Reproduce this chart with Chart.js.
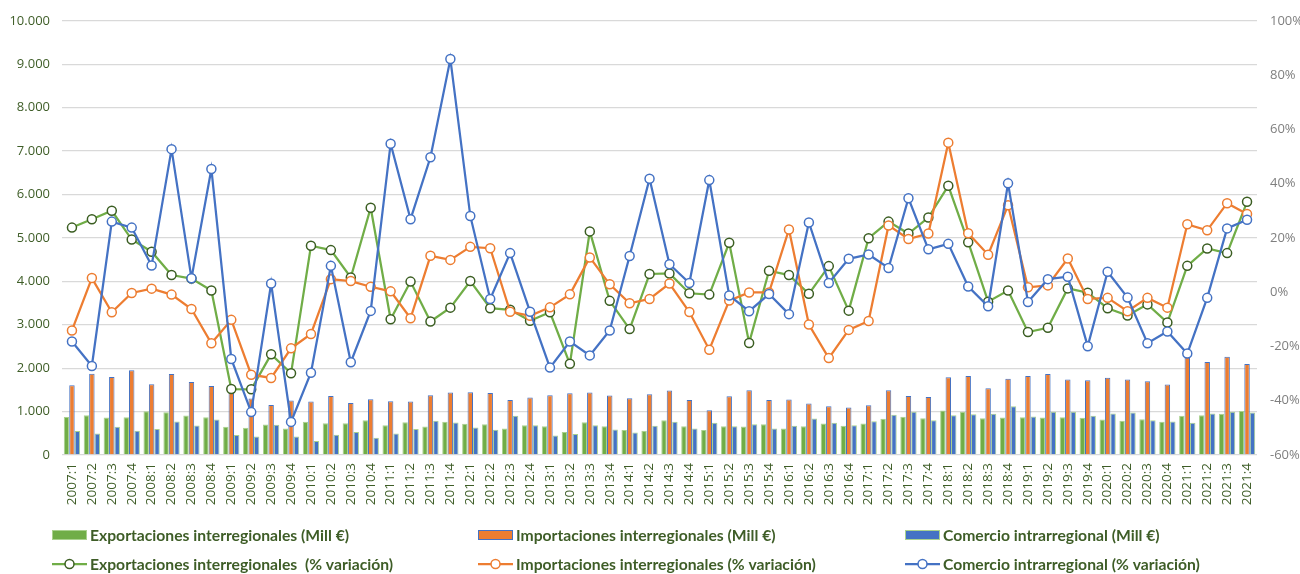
<!DOCTYPE html>
<html lang="es">
<head>
<meta charset="utf-8">
<title>Comercio interregional e intrarregional</title>
<script src="https://cdn.jsdelivr.net/npm/chart.js@4.4.1/dist/chart.umd.min.js"></script>
<style>
  html, body { margin: 0; padding: 0; background: #ffffff; overflow: hidden; }
  #wrap { position: relative; width: 1300px; height: 574px; }
</style>
</head>
<body>
<div id="wrap"><canvas id="chart" width="1300" height="574"></canvas></div>
<script>
// Trimestres 2007:1 - 2021:4
const years = ['2007','2008','2009','2010','2011','2012','2013','2014','2015','2016','2017','2018','2019','2020','2021'];
const quarters = [];
years.forEach(y => { for (let q = 1; q <= 4; q++) quarters.push(y + ':' + q); });

// Millones de euros (eje izquierdo)
const exportsMill = [
  878, 917, 864, 872,   1009, 986, 910, 872,   650, 627, 704, 612,   765, 734, 734, 803,
  688, 757, 657, 765,   719, 711, 612, 688,    665, 528, 757, 665,   573, 558, 803, 665,
  573, 665, 657, 711,   612, 665, 726, 673,    726, 834, 879, 849,   1025, 994, 849, 864,
  872, 864, 872, 857,   818, 788, 826, 765,    902, 917, 948, 1016
];
const importsMill = [
  1606, 1873, 1796, 1950,  1628, 1865, 1682, 1590,  1540, 1300, 1154, 1254,  1231, 1361, 1200, 1284,
  1238, 1231, 1376, 1437,  1445, 1430, 1269, 1323,  1376, 1422, 1437, 1368,  1307, 1399, 1483, 1269,
  1032, 1353, 1491, 1269,  1277, 1185, 1124, 1093,  1147, 1491, 1361, 1338,  1789, 1820, 1537, 1758,
  1820, 1865, 1736, 1720,  1781, 1736, 1697, 1621,  2260, 2140, 2260, 2094
];
const intraMill = [
  550, 497, 650, 558,   596, 772, 680, 818,   459, 428, 696, 428,   321, 466, 528, 397,
  497, 596, 787, 749,   635, 581, 902, 688,   451, 482, 688, 589,   520, 673, 765, 612,
  742, 665, 711, 612,   673, 841, 742, 688,   780, 925, 994, 803,   917, 940, 948, 1124,
  887, 994, 994, 902,   956, 979, 803, 772,   742, 956, 994, 979
];

// % variación (eje derecho)
const exportsPct = [
  23.8, 26.9, 30.0, 19.4,   14.9, 6.3, 5.0, 0.6,   -35.7, -35.8, -22.9, -29.9,   17.1, 15.5, 5.4, 31.1,
  -10.0, 3.9, -10.8, -5.7,  4.1, -5.9, -6.5, -10.5, -7.4, -26.4, 22.4, -3.2,     -13.6, 6.7, 6.9, -0.4,
  -0.9, 18.2, -18.7, 7.9,   6.3, -0.6, 9.6, -6.8,  19.9, 26.0, 21.6, 27.5,       39.2, 18.4, -3.5, 0.6,
  -14.7, -13.1, 1.4, -0.2,  -5.9, -8.6, -4.5, -11.2, 9.7, 16.1, 14.4, 33.3
];
const importsPct = [
  -14.1, 5.2, -7.4, -0.3,   1.3, -0.9, -6.2, -18.8,  -10.2, -30.4, -31.6, -20.7,  -15.4, 4.8, 4.1, 2.0,
  0.3, -9.6, 13.4, 11.9,    16.7, 16.2, -7.2, -8.7,  -5.6, -0.8, 12.8, 2.9,       -4.1, -2.5, 3.2, -7.3,
  -21.2, -3.1, -0.1, -0.1,  23.1, -11.9, -24.3, -13.9, -10.6, 24.6, 19.6, 21.6,   55.1, 21.7, 13.8, 32.0,
  1.8, 2.5, 12.4, -2.5,     -2.1, -7.0, -2.1, -5.7,  25.0, 22.8, 32.8, 28.8
];
const intraPct = [
  -18.2, -27.2, 26.0, 23.8, 9.8, 52.7, 5.1, 45.4,   -24.6, -44.2, 3.2, -47.8,   -29.7, 9.7, -25.8, -6.9,
  54.7, 26.9, 49.7, 85.9,   28.1, -2.5, 14.4, -7.2,  -27.8, -18.2, -23.3, -14.1, 13.3, 41.8, 10.3, 3.4,
  41.3, -1.2, -7.0, -0.7,   -8.1, 25.7, 3.4, 12.3,  13.9, 8.9, 34.6, 15.8,       17.8, 2.1, -5.2, 40.1,
  -3.6, 4.8, 5.7, -19.9,    7.5, -2.0, -18.8, -14.5, -22.6, -2.1, 23.5, 26.7
];

const seriesLabels = [
  'Exportaciones interregionales (Mill €)',
  'Importaciones interregionales (Mill €)',
  'Comercio intrarregional (Mill €)',
  'Exportaciones interregionales  (% variación)',
  'Importaciones interregionales (% variación)',
  'Comercio intrarregional (% variación)'
];

const GREEN = '#70AD47', ORANGE = '#ED7D31', BLUE = '#4472C4';
const LIGHT_GREEN = '#A9D18E', DARK_GREEN = '#3B5E22';
const TEXT_GREEN = '#3E5D27', GRAY_TEXT = '#7F7F7F', GRID = '#D9D9D9';

function thousands(v) {
  return String(v).replace(/\B(?=(\d{3})+(?!\d))/g, '.');
}

function barSet(label, data, fill, edge, order) {
  return {
    type: 'bar', label, data, yAxisID: 'y', order,
    backgroundColor: fill, borderColor: edge, borderWidth: 1,
    categoryPercentage: 0.82, barPercentage: 1.0
  };
}
function lineSet(label, data, color, markerEdge, order) {
  return {
    type: 'line', label, data, yAxisID: 'y1', order,
    borderColor: color, borderWidth: 2.25, tension: 0,
    pointRadius: 4.5, pointBorderWidth: 1.5,
    pointBackgroundColor: '#FFFFFF', pointBorderColor: markerEdge,
    fill: false
  };
}

// Leyenda en dos filas y tres columnas bajo el eje X
const gridLegend = {
  id: 'gridLegend',
  afterDraw(chart) {
    const ctx = chart.ctx;
    const cols = [52, 478, 905];
    const rows = [535, 564];
    ctx.save();
    ctx.font = 'bold 15.7px Lato';
    ctx.textBaseline = 'middle';
    ctx.textAlign = 'left';
    chart.data.datasets.forEach((ds, i) => {
      const x = cols[i % 3];
      const y = rows[Math.floor(i / 3)];
      if (ds.type === 'bar') {
        ctx.fillStyle = ds.backgroundColor;
        ctx.fillRect(x, y - 5, 35, 10);
        ctx.strokeStyle = ds.borderColor;
        ctx.lineWidth = 1;
        ctx.strokeRect(x + 0.5, y - 4.5, 34, 9);
      } else {
        ctx.strokeStyle = ds.borderColor;
        ctx.lineWidth = 2.25;
        ctx.beginPath();
        ctx.moveTo(x, y);
        ctx.lineTo(x + 35, y);
        ctx.stroke();
        ctx.beginPath();
        ctx.arc(x + 17.5, y, 4.5, 0, Math.PI * 2);
        ctx.fillStyle = '#FFFFFF';
        ctx.fill();
        ctx.lineWidth = 1.5;
        ctx.strokeStyle = ds.pointBorderColor;
        ctx.stroke();
      }
      ctx.fillStyle = TEXT_GREEN;
      ctx.fillText(ds.label, x + 38, y + 1);
    });
    ctx.restore();
  }
};

new Chart(document.getElementById('chart'), {
  data: {
    labels: quarters,
    datasets: [
      barSet(seriesLabels[0], exportsMill, GREEN, LIGHT_GREEN, 4),
      barSet(seriesLabels[1], importsMill, ORANGE, BLUE, 5),
      barSet(seriesLabels[2], intraMill, BLUE, LIGHT_GREEN, 6),
      lineSet(seriesLabels[3], exportsPct, GREEN, DARK_GREEN, 3),
      lineSet(seriesLabels[4], importsPct, ORANGE, ORANGE, 2),
      lineSet(seriesLabels[5], intraPct, BLUE, BLUE, 1)
    ]
  },
  options: {
    responsive: false,
    animation: false,
    layout: { padding: { top: 19, left: 0, right: 0, bottom: 0 } },
    plugins: {
      legend: { display: false },
      title: { display: false },
      tooltip: { enabled: false }
    },
    scales: {
      x: {
        offset: true,
        grid: { display: false, drawTicks: false },
        border: { display: false },
        ticks: {
          autoSkip: false, minRotation: 90, maxRotation: 90, padding: 8,
          color: TEXT_GREEN, font: { family: 'Open Sans', size: 13.5 }
        },
        afterFit(scale) { scale.height = 119; }
      },
      y: {
        position: 'left', min: 0, max: 10000,
        grid: { color: GRID, lineWidth: 1.3, drawTicks: false },
        border: { display: false },
        ticks: {
          stepSize: 1000, padding: 12, color: TEXT_GREEN,
          font: { family: 'Open Sans', size: 13 },
          callback: v => thousands(v)
        },
        afterFit(scale) { scale.width = 62; }
      },
      y1: {
        position: 'right', min: -60, max: 100,
        grid: { display: false, drawTicks: false },
        border: { display: false },
        ticks: {
          stepSize: 20, padding: 13, color: GRAY_TEXT,
          font: { family: 'Open Sans', size: 13 },
          callback: v => v + '%'
        },
        afterFit(scale) { scale.width = 43; }
      }
    }
  },
  plugins: [gridLegend]
});
</script>
</body>
</html>
